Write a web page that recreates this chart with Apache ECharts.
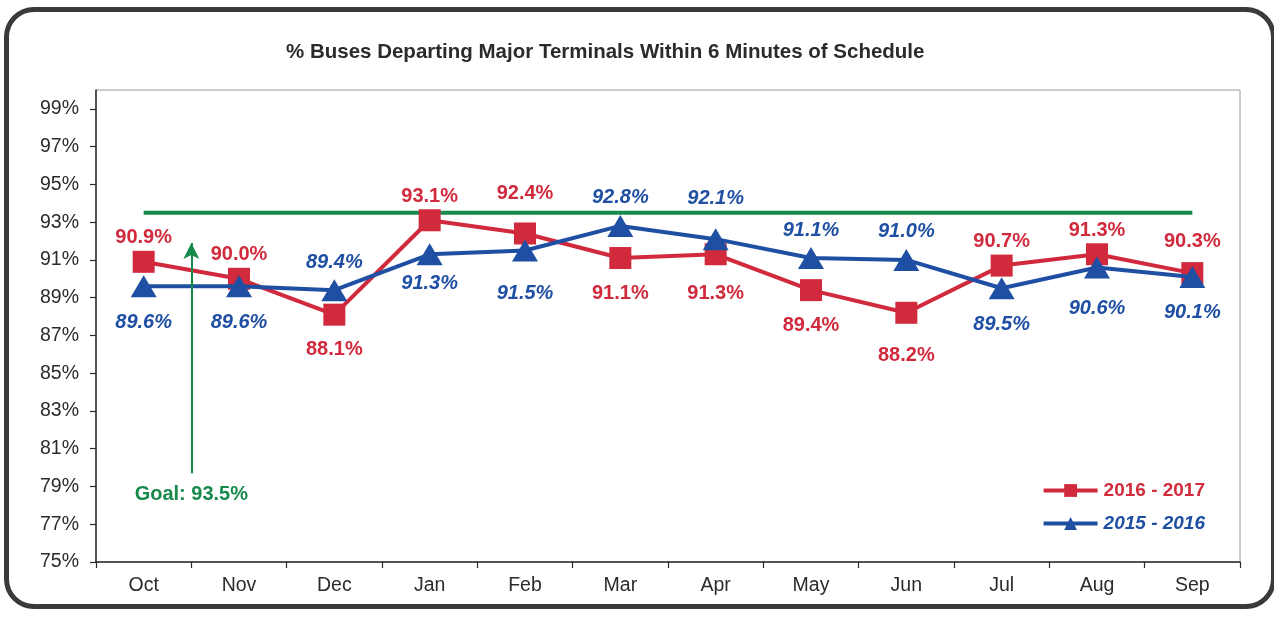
<!DOCTYPE html>
<html>
<head>
<meta charset="utf-8">
<script src="https://cdn.jsdelivr.net/npm/echarts@6/dist/echarts.min.js"></script>
<style>
  html, body { margin: 0; padding: 0; background: #fff; }
  .frame {
    position: absolute; left: 4px; top: 7px; width: 1272px; height: 602px;
    border: 5px solid #3a3a3a; border-radius: 30px; box-sizing: border-box;
  }
  #chart { position: absolute; left: 0; top: 0; width: 1274px; height: 621px; }
</style>
</head>
<body>
<div class="frame"></div>
<div id="chart"></div>
<script>
const months = ['Oct', 'Nov', 'Dec', 'Jan', 'Feb', 'Mar', 'Apr', 'May', 'Jun', 'Jul', 'Aug', 'Sep']
const fy2017 = [90.9, 90.0, 88.1, 93.1, 92.4, 91.1, 91.3, 89.4, 88.2, 90.7, 91.3, 90.3]
const fy2016 = [89.6, 89.6, 89.4, 91.3, 91.5, 92.8, 92.1, 91.1, 91.0, 89.5, 90.6, 90.1]
const goal = 93.5
const goalArrow = [[0.5, 79.7], [0.5, 91.9]] // between Oct and Nov
const yTicks = [75, 77, 79, 81, 83, 85, 87, 89, 91, 93, 95, 97, 99]

// hand nudges of a few value labels (px, vertical), as placed in the original
const redNudge = { 4: -16, 6: 4, 8: 8, 11: -8 }
const blueNudge = { 3: -7, 4: 7, 6: -13, 10: 5 }

const RED = '#d12a3d'
const BLUE = '#1f4fa3'
const GREEN = '#178a4b'
const INK = '#2b2b2b'
const FONT = "'Liberation Sans', Arial, sans-serif"

// label goes above the marker of the higher series, below for the lower one
const redData = fy2017.map((v, i) => ({
  value: v,
  label: Object.assign(
    v >= fy2016[i] ? { position: 'top', distance: 3 } : { position: 'bottom', distance: 14 },
    { offset: [0, redNudge[i] || 0] }),
}))
const blueData = fy2016.map((v, i) => ({
  value: v,
  label: Object.assign(
    v > fy2017[i] ? { position: 'top', distance: 7 } : { position: 'bottom', distance: 15 },
    { offset: [0, blueNudge[i] || 0] }),
}))

const chart = echarts.init(document.getElementById('chart'))
chart.setOption({
  animation: false,
  textStyle: { fontFamily: FONT },
  title: {
    text: '% Buses Departing Major Terminals Within 6 Minutes of Schedule',
    left: 281, top: 37,
    textStyle: { fontFamily: FONT, fontSize: 20.5, fontWeight: 'bold', color: INK },
  },
  grid: { left: 96, top: 90, right: 34, bottom: 59, show: true, borderColor: '#9a9a9a', borderWidth: 1 },
  legend: {
    orient: 'vertical', right: 64, top: 476, itemGap: 14,
    itemWidth: 54, itemHeight: 16,
    lineStyle: { width: 4 },
    data: [
      { name: '2016 - 2017', textStyle: { color: RED, fontStyle: 'normal' } },
      { name: '2015 - 2016', textStyle: { color: BLUE, fontStyle: 'italic' } },
    ],
    textStyle: { fontFamily: FONT, fontSize: 19, fontWeight: 'bold', padding: [0, 0, 0, 1] },
  },
  xAxis: [{
    type: 'category',
    data: months,
    boundaryGap: true,
    axisLine: { onZero: false, lineStyle: { color: INK, width: 1.5 } },
    axisTick: { show: true, alignWithLabel: false, interval: 0, length: 6, lineStyle: { color: INK, width: 1.2 } },
    axisLabel: { color: INK, fontSize: 19.5, margin: 14 },
  }, {
    type: 'value', min: -0.5, max: 11.5, show: false,
  }],
  yAxis: {
    type: 'value', min: 75, max: 100,
    splitLine: { show: false },
    axisLine: { show: true, onZero: false, lineStyle: { color: INK, width: 1.5 } },
    axisTick: { show: true, length: 6, customValues: yTicks, lineStyle: { color: INK, width: 1.2 } },
    axisLabel: { color: INK, fontSize: 19.5, margin: 17, customValues: yTicks, formatter: '{value}%' },
  },
  series: [{
    name: 'Goal',
    type: 'line',
    data: months.map(() => goal),
    symbol: 'none',
    lineStyle: { color: GREEN, width: 4 },
    silent: true,
    z: 1,
  }, {
    name: 'arrow',
    type: 'line',
    xAxisIndex: 1,
    data: goalArrow,
    symbol: 'none',
    lineStyle: { opacity: 0 },
    silent: true,
    markLine: {
      silent: true,
      symbol: ['none', 'arrow'],
      symbolSize: [12, 16],
      lineStyle: { color: GREEN, width: 2, type: 'solid' },
      label: {
        show: true, position: 'start', distance: 11,
        formatter: 'Goal: 93.5%',
        color: GREEN, fontFamily: FONT, fontSize: 20, fontWeight: 'bold',
      },
      data: [[{ coord: goalArrow[0] }, { coord: goalArrow[1] }]],
    },
  }, {
    name: '2015 - 2016',
    type: 'line',
    data: blueData,
    symbol: 'triangle',
    symbolSize: [26, 22],
    lineStyle: { color: BLUE, width: 4 },
    itemStyle: { color: BLUE },
    label: {
      show: true, formatter: (p) => p.value.toFixed(1) + '%',
      color: BLUE, fontFamily: FONT, fontSize: 20, fontWeight: 'bold', fontStyle: 'italic',
    },
    z: 3,
  }, {
    name: '2016 - 2017',
    type: 'line',
    data: redData,
    symbol: 'rect',
    symbolSize: 22,
    lineStyle: { color: RED, width: 4 },
    itemStyle: { color: RED },
    label: {
      show: true, formatter: (p) => p.value.toFixed(1) + '%',
      color: RED, fontFamily: FONT, fontSize: 20, fontWeight: 'bold',
    },
    z: 2,
  }],
})
</script>
</body>
</html>
